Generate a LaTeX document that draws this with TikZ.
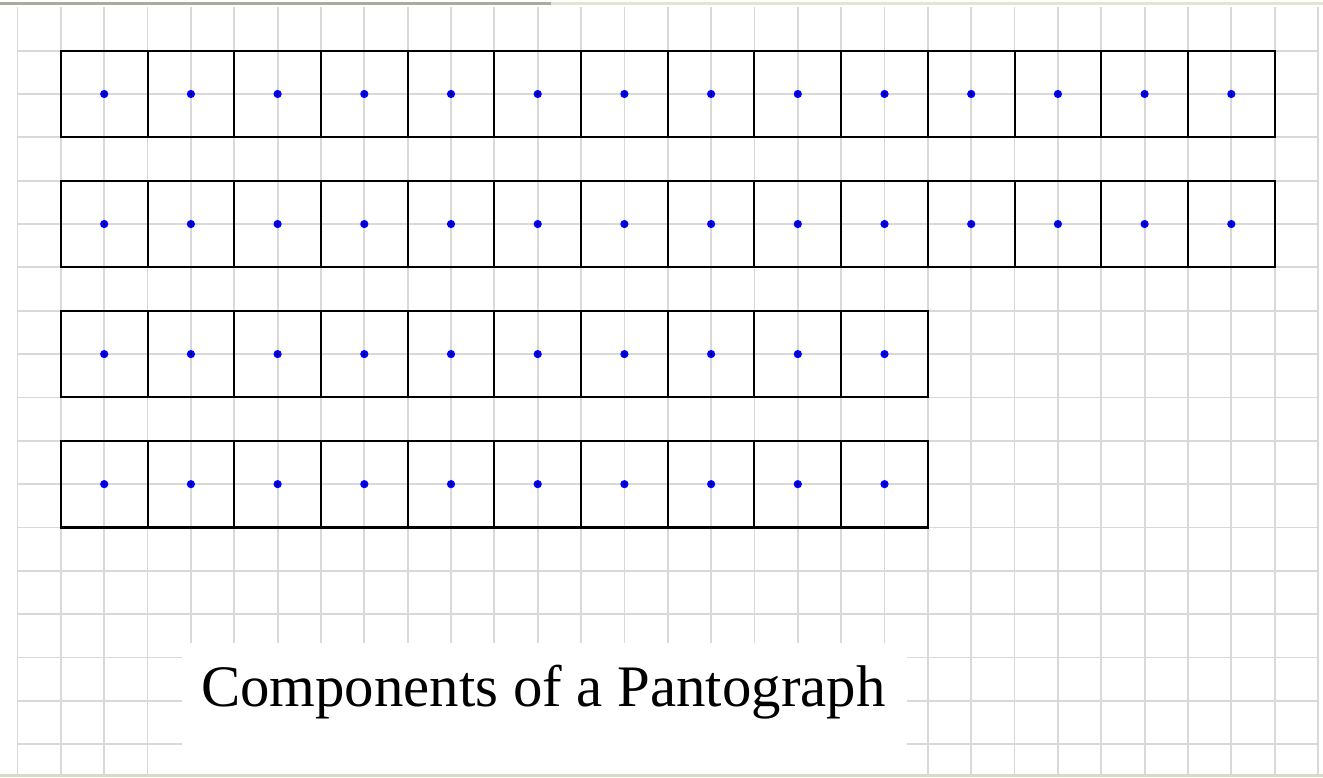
\documentclass[tikz,border=0pt]{standalone}
\usepackage{fontspec}
\setmainfont{Liberation Serif}
\usepackage{tikz}
\usetikzlibrary{positioning}
\definecolor{GridGray}{HTML}{D9D9D9}
\definecolor{FrameDark}{HTML}{A9AB9C}
\definecolor{FrameLight}{HTML}{E2E4D4}
\definecolor{FrameOlive}{HTML}{D8DCC6}
\definecolor{PinBlue}{HTML}{0000FF}
\tikzset{
  % Background grid line
  gridline/.style={draw=GridGray, line width=1.2pt},
  % One component square of the strip
  cell/.style={
    rectangle, draw=black, line width=1.35pt,
    minimum width=2cm, minimum height=2cm, inner sep=0pt
  },
  % Pivot point in a square
  pin/.style={fill=PinBlue},
  % Caption text
  caption/.style={font=\fontsize{38.6}{46}\selectfont, inner sep=0pt, anchor=base}
}
\begin{document}
\begin{tikzpicture}
  \useasboundingbox (-0.404,0.168) rectangle (30.115,-17.778);
  \fill[white] (-0.404,0.168) rectangle (30.115,-17.778);

  % grid
  \foreach \gx in {0,...,30}
    \draw[gridline] (\gx,0) -- (\gx,-17.73);
  \foreach \gy in {1,...,17}
    \draw[gridline] (0,-\gy) -- (30,-\gy);

  % frame
  \draw[FrameDark, line width=2pt]  (-0.404,0.08) -- (12.31,0.08);
  \draw[FrameLight, line width=2pt] (12.31,0.08) -- (30.115,0.08);

  % strips of squares: row / top / count
  \foreach \r/\top/\n in {1/1/14, 2/4/14, 3/7/10, 4/10/10} {
    \foreach \i in {1,...,\n} {
      \node[cell] (c\r-\i) at ({2*\i}, {-\top-1}) {};
      \fill[pin] (c\r-\i.center) circle (0.095);
      \fill[black] (c\r-\i.center) circle (0.03);
    }
  }

  % caption
  \fill[white] (3.79,-14.66) rectangle (20.52,-17.73);
  \draw[FrameOlive, line width=2pt] (-0.404,-17.73) -- (30.115,-17.73);
  \node[caption] (title) at (12.13,-16.14) {Components of a Pantograph};
\end{tikzpicture}
\end{document}
